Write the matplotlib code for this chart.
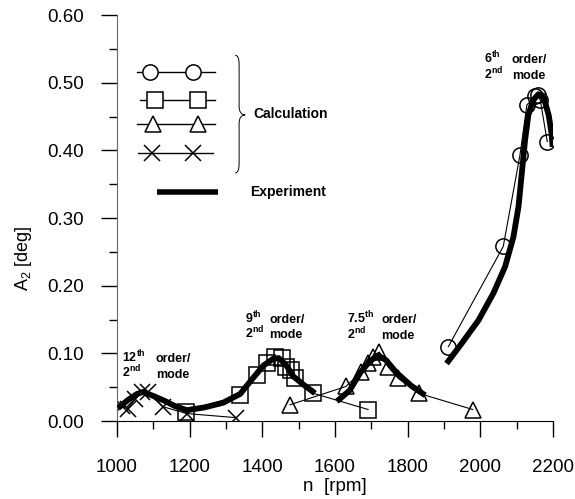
import numpy as np
import matplotlib
matplotlib.use("Agg")
import matplotlib.pyplot as plt
from matplotlib.path import Path
from matplotlib.patches import PathPatch
from matplotlib.ticker import MultipleLocator, FormatStrFormatter

plt.rcParams['font.family'] = ['Liberation Sans', 'DejaVu Sans']
plt.rcParams['mathtext.fontset'] = 'custom'
plt.rcParams['mathtext.rm'] = 'Liberation Sans'
plt.rcParams['mathtext.bf'] = 'Liberation Sans:bold'
plt.rcParams['mathtext.it'] = 'Liberation Sans:italic'

# calculation, 6th order (circles)
n_circ = [1912, 2063, 2109, 2128, 2150, 2158, 2165, 2184]
a_circ = [0.110, 0.258, 0.393, 0.467, 0.480, 0.482, 0.474, 0.413]

# calculation, 9th order (squares)
n_sq = [1190, 1339, 1385, 1412, 1435, 1453, 1465, 1478, 1490, 1540, 1691]
a_sq = [0.014, 0.038, 0.068, 0.086, 0.095, 0.093, 0.080, 0.075, 0.063, 0.041, 0.017]

# calculation, 7.5th order (triangles)
n_tri = [1476, 1630, 1672, 1690, 1705, 1722, 1746, 1774, 1830, 1979]
a_tri = [0.024, 0.051, 0.073, 0.085, 0.094, 0.102, 0.080, 0.063, 0.041, 0.017]

# calculation, 12th order (crosses)
n_x = [1015, 1029, 1050, 1068, 1086, 1127, 1192, 1327]
a_x = [0.022, 0.018, 0.033, 0.043, 0.043, 0.021, 0.011, 0.005]

# experiment, 12th + 9th order
n_exp1 = [1003, 1030, 1055, 1072, 1100, 1130, 1160, 1192, 1240, 1292, 1339,
          1366, 1403, 1430, 1445, 1465, 1485, 1515, 1545]
a_exp1 = [0.019, 0.031, 0.040, 0.043, 0.037, 0.030, 0.022, 0.016, 0.020, 0.027,
          0.040, 0.058, 0.082, 0.092, 0.093, 0.083, 0.066, 0.053, 0.041]

# experiment, 7.5th order
n_exp2 = [1605, 1640, 1669, 1695, 1718, 1740, 1770, 1810, 1848]
a_exp2 = [0.029, 0.045, 0.071, 0.088, 0.097, 0.090, 0.071, 0.052, 0.038]

# experiment, 6th order
n_exp3 = [1907, 1949, 1995, 2036, 2068, 2091, 2105, 2114, 2123, 2132, 2145,
          2160, 2175, 2188, 2196, 2199]
a_exp3 = [0.085, 0.115, 0.149, 0.189, 0.228, 0.272, 0.317, 0.366, 0.415, 0.452,
          0.474, 0.483, 0.477, 0.452, 0.425, 0.405]

fig = plt.figure(figsize=(5.75, 4.99), dpi=100)
ax = fig.add_axes([0.2035, 0.1563, 0.7583, 0.8136])

mk = dict(color='black', lw=0.8, ms=11, mfc='none', mec='black', mew=1.1)
ax.plot(n_circ, a_circ, marker='o', **mk)
ax.plot(n_sq, a_sq, marker='s', **mk)
ax.plot(n_tri, a_tri, marker='^', **mk)
ax.plot(n_x, a_x, marker='x', **mk)

for nn, aa in [(n_exp1, a_exp1), (n_exp2, a_exp2), (n_exp3, a_exp3)]:
    ax.plot(nn, aa, color='black', lw=4.2, solid_capstyle='butt', zorder=3)

ax.set_xlim(1000, 2200)
ax.set_ylim(0, 0.6)
ax.xaxis.set_major_locator(MultipleLocator(200))
ax.xaxis.set_minor_locator(MultipleLocator(100))
ax.yaxis.set_major_locator(MultipleLocator(0.1))
ax.yaxis.set_minor_locator(MultipleLocator(0.05))
ax.yaxis.set_major_formatter(FormatStrFormatter('%.2f'))

ax.spines['top'].set_visible(False)
ax.spines['right'].set_visible(False)
ax.spines['left'].set_color('#666666')
ax.tick_params(which='major', length=11.5, width=1, labelsize=13.5, pad=12)
ax.tick_params(which='minor', length=5.5, width=1)
ax.tick_params(axis='x', which='major', pad=16)

ax.set_xlabel('n  [rpm]', fontsize=13.5)
ax.set_ylabel(r'A$_{\mathregular{2}}$ [deg]', fontsize=13)
ax.xaxis.set_label_coords(0.5, -0.14)
ax.yaxis.set_label_coords(-0.19, 0.40)

# annotations
ann = dict(fontsize=9, fontweight='bold', ha='left', va='baseline')
notes = [
    (1015, 0.087, r'12$^{\mathbf{th}}$', 1107, 'order/'),
    (1015, 0.064, r'2$^{\mathbf{nd}}$', 1107, 'mode'),
    (1352, 0.145, r'9$^{\mathbf{th}}$', 1420, 'order/'),
    (1352, 0.122, r'2$^{\mathbf{nd}}$', 1420, 'mode'),
    (1632, 0.145, r'7.5$^{\mathbf{th}}$', 1728, 'order/'),
    (1632, 0.121, r'2$^{\mathbf{nd}}$', 1728, 'mode'),
    (2010, 0.529, r'6$^{\mathbf{th}}$', 2087, 'order/'),
    (2010, 0.505, r'2$^{\mathbf{nd}}$', 2087, 'mode'),
]
for x1, y1, t1, x2, t2 in notes:
    ax.text(x1, y1, t1, **ann)
    ax.text(x2, y1, t2, **ann)

# hand-drawn legend
T = ax.transAxes
rows = [('o', 0.860, 0.046, 0.225, (0.076, 0.174)),
        ('s', 0.791, 0.053, 0.225, (0.087, 0.186)),
        ('^', 0.731, 0.046, 0.225, (0.083, 0.186)),
        ('x', 0.660, 0.048, 0.220, (0.080, 0.174))]
for m, yy, x0, x1, mx in rows:
    ax.plot([x0, x1], [yy, yy], color='black', lw=1.0, transform=T, clip_on=False)
    ax.plot(mx, [yy, yy], ls='none', marker=m, ms=11, mfc='white', mec='black',
            mew=1.1, transform=T, clip_on=False)
ax.plot([0.092, 0.232], [0.564, 0.564], color='black', lw=4, solid_capstyle='butt',
        transform=T, clip_on=False)

# curly brace
xl, xm, xr = 0.271, 0.280, 0.294
yt, ymid, yb, d = 0.901, 0.754, 0.611, 0.022
verts = [(xl, yt), (xm, yt), (xm, yt - d), (xm, ymid + d), (xm, ymid), (xr, ymid),
         (xm, ymid), (xm, ymid - d), (xm, yb + d), (xm, yb), (xl, yb)]
codes = [Path.MOVETO, Path.CURVE3, Path.CURVE3, Path.LINETO, Path.CURVE3, Path.CURVE3,
         Path.CURVE3, Path.CURVE3, Path.LINETO, Path.CURVE3, Path.CURVE3]
ax.add_patch(PathPatch(Path(verts, codes), fill=False, lw=0.7, ec='black',
                       transform=T, clip_on=False))

ax.text(0.312, 0.757, 'Calculation', transform=T, fontsize=10, fontweight='bold',
        va='center', ha='left')
ax.text(0.305, 0.564, 'Experiment', transform=T, fontsize=10, fontweight='bold',
        va='center', ha='left')

fig.savefig('out.png', dpi=100)
